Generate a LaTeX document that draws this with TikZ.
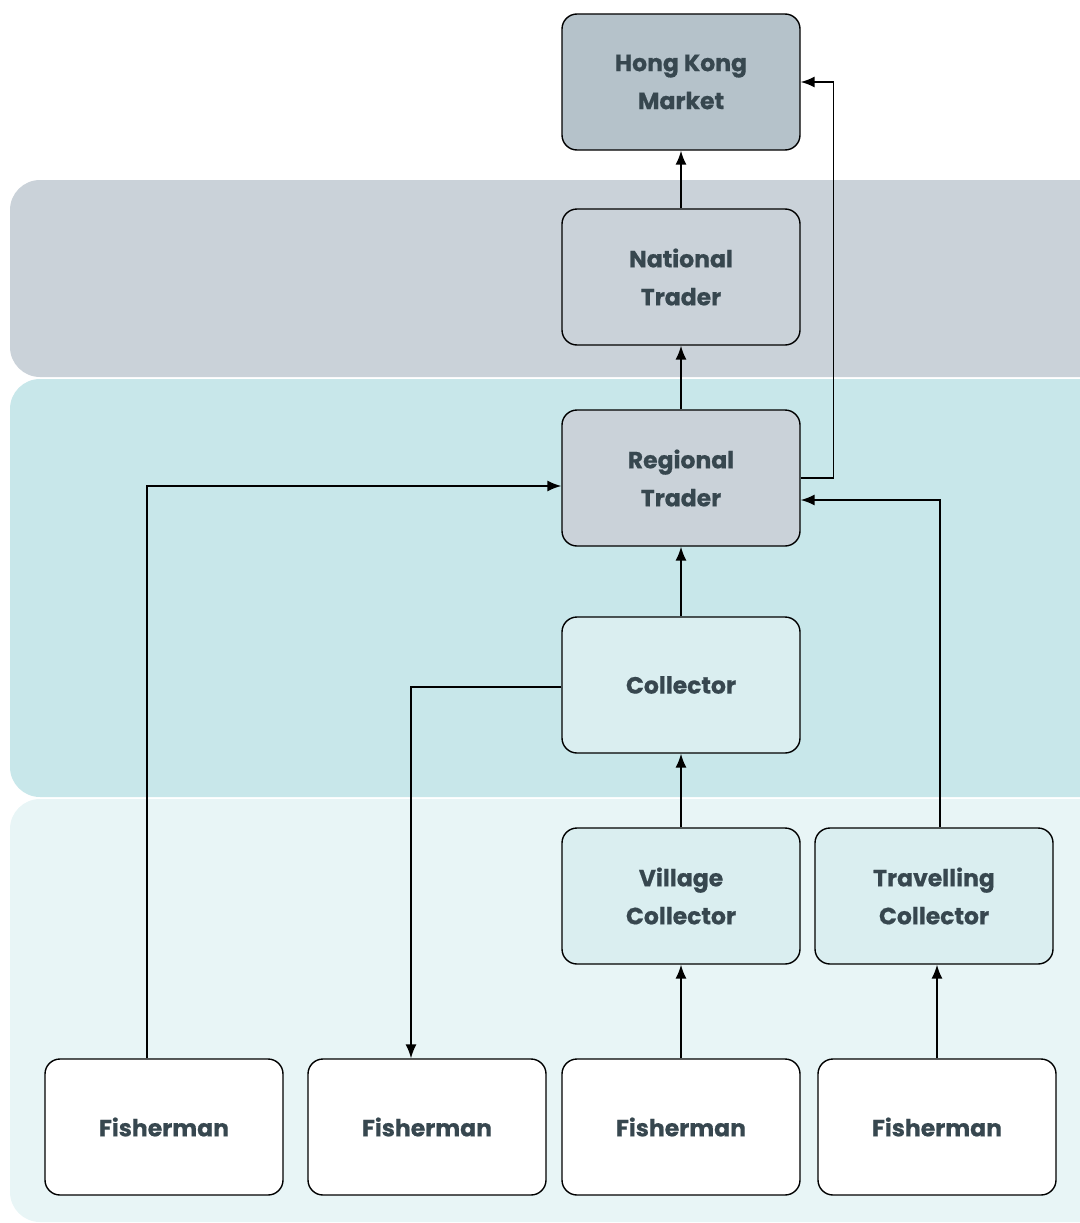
\documentclass[tikz,border=0pt]{standalone}
\usepackage{fontspec}
\setmainfont{Poppins}[BoldFeatures={FakeBold=0.6}]
\usetikzlibrary{arrows.meta,calc}
\definecolor{bandgray}{HTML}{CAD2D9}
\definecolor{bandteal}{HTML}{C8E7EA}
\definecolor{bandlight}{HTML}{E8F5F6}
\definecolor{hkfill}{HTML}{B5C2CA}
\definecolor{tradefill}{HTML}{CAD2D9}
\definecolor{collfill}{HTML}{DAEEF0}
\definecolor{ink}{HTML}{37474F}
\tikzset{
  band/.style={rounded corners=30pt, draw=none},
  actor/.style={draw=black, line width=1.4pt, rounded corners=15pt,
    minimum width=238pt, minimum height=136pt, align=center,
    text=ink, font=\fontsize{23.5}{38}\selectfont\bfseries},
  arr/.style={draw=black, line width=1.5pt, -{Latex[length=14pt,width=11pt]}}
}
\begin{document}
\begin{tikzpicture}[x=1pt, y=-1pt]
  \path[use as bounding box] (0,0) rectangle (1079,1223);
  % background tiers
  \fill[band, bandgray]  (10,180) rectangle (1110,377);
  \fill[band, bandteal]  (10,379) rectangle (1110,797);
  \fill[band, bandlight] (10,799) rectangle (1110,1222);

  % actors
  \node[actor, fill=hkfill]    (hk)  at (681,82)   {Hong Kong\\Market};
  \node[actor, fill=tradefill] (nt)  at (681,277)  {National\\Trader};
  \node[actor, fill=tradefill] (rt)  at (681,478)  {Regional\\Trader};
  \node[actor, fill=collfill]  (col) at (681,685)  {Collector};
  \node[actor, fill=collfill]  (vc)  at (681,896)  {Village\\Collector};
  \node[actor, fill=collfill]  (tc)  at (934,896)  {Travelling\\Collector};
  \node[actor, fill=white]     (f1)  at (164,1127) {Fisherman};
  \node[actor, fill=white]     (f2)  at (427,1127) {Fisherman};
  \node[actor, fill=white]     (f3)  at (681,1127) {Fisherman};
  \node[actor, fill=white]     (f4)  at (937,1127) {Fisherman};

  % trade flows
  \draw[arr] (nt.north) -- (hk.south);
  \draw[arr] (rt.north) -- (nt.south);
  \draw[arr] (col.north) -- (rt.south);
  \draw[arr] (vc.north) -- (col.south);
  \draw[arr] (f3.north) -- (vc.south);
  \draw[arr] (f4.north) -- (f4.north |- tc.south);
  \draw[arr] (rt.east) -- ++(33,0) |- (hk.east);
  \draw[arr] ([xshift=-17pt]f1.north) |- ([yshift=-8pt]rt.west);
  \draw[arr] ([yshift=-2pt]col.west) -| ([xshift=-16pt]f2.north);
  \draw[arr] ([xshift=6pt]tc.north) |- ([yshift=-22pt]rt.east);
\end{tikzpicture}
\end{document}
